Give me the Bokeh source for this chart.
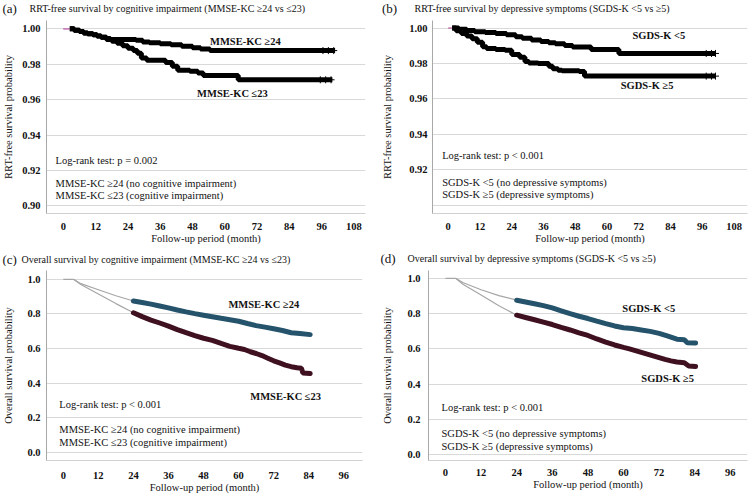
from bokeh.plotting import figure
from bokeh.models import Label, FixedTicker, NumeralTickFormatter, Range1d
from bokeh.layouts import column, row
from bokeh.embed import file_html
from bokeh.resources import INLINE

FONT = "Liberation Serif"
INK = "#111111"
GRID = "#d9d9d9"
TEAL = "#24536b"
MAROON = "#3f1020"
THIN = "#a6a6a6"

# ---------------- axis ticks ----------------
rrt_x_ticks = [0, 12, 24, 36, 48, 60, 72, 84, 96, 108]
os_x_ticks = [0, 12, 24, 36, 48, 60, 72, 84, 96]
rrt_y_ticks = [0.90, 0.92, 0.94, 0.96, 0.98, 1.00]
rrt_y_ticks_b = [0.92, 0.94, 0.96, 0.98, 1.00]
os_y_ticks = [0.0, 0.2, 0.4, 0.6, 0.8, 1.0]

# ---------------- (a) RRT-free survival by MMSE-KC ----------------
a_hi_t = [0, 2.4, 4, 6, 7.5, 9, 11, 12.5, 14, 16, 17.5, 27, 29.5, 32, 36, 40, 44, 48, 51, 54.5, 101]
a_hi_s = [1.0, 1.0, 0.9992, 0.9985, 0.9977, 0.9972, 0.9966, 0.996, 0.9952, 0.9946, 0.994,
          0.9936, 0.9926, 0.9921, 0.9915, 0.991, 0.9902, 0.9893, 0.9886, 0.9877, 0.9877]
a_lo_t = [0, 2.4, 4, 6, 7.5, 9, 11, 12.5, 14, 16, 18, 20, 22, 24, 26, 27.5, 29, 31, 38,
          40.5, 42.5, 47, 50, 52, 65, 100]
a_lo_s = [1.0, 1.0, 0.9992, 0.9985, 0.9977, 0.9972, 0.9966, 0.996, 0.9952, 0.994, 0.993,
          0.9918, 0.9905, 0.989, 0.9878, 0.9862, 0.9835, 0.9822, 0.981, 0.9788, 0.9766,
          0.976, 0.975, 0.9736, 0.9712, 0.9712]
a_hi_cens = [96.5, 98.5, 100.5]
a_lo_cens = [95.5, 97.5, 99.5]

# ---------------- (b) RRT-free survival by SGDS-K ----------------
b_lo5_t = [0, 1.5, 4, 7, 10, 14, 18, 22, 25.5, 28, 31.5, 35, 38, 40.5, 44, 47, 54, 64.5, 101]
b_lo5_s = [1.0, 1.0, 0.9993, 0.9986, 0.998, 0.9975, 0.9969, 0.9962, 0.9951, 0.9943, 0.9933,
           0.9925, 0.9918, 0.9912, 0.9902, 0.9893, 0.9879, 0.9857, 0.9857]
b_hi5_t = [0, 1.5, 3, 5, 7, 9, 11, 13, 14.5, 18, 21.5, 24, 27, 29, 30.5, 34, 38, 39.5, 41.5,
           43, 49.5, 51.5, 101]
b_hi5_s = [1.0, 1.0, 0.9985, 0.997, 0.9955, 0.994, 0.992, 0.9895, 0.9885, 0.9879, 0.9875,
           0.9851, 0.9835, 0.9812, 0.9803, 0.98, 0.9785, 0.977, 0.9762, 0.9759, 0.9755,
           0.9729, 0.9729]
b_lo5_cens = [97.5, 99.5, 101]
b_hi5_cens = [97.5, 99.5, 101]

# ---------------- (c) overall survival by MMSE-KC ----------------
c_start_t = [0, 3.5]
c_start_s = [1.0, 1.0]
c_hi_early_t = [3.5, 6, 12, 18, 24]
c_hi_early_s = [1.0, 0.975, 0.94, 0.905, 0.875]
c_lo_early_t = [3.5, 6, 12, 18, 24]
c_lo_early_s = [1.0, 0.97, 0.915, 0.86, 0.807]
c_hi_t = [24, 27, 30, 33, 36, 39, 42, 45, 48, 51, 54, 57, 60, 63, 66, 69, 72, 75, 78, 81, 84.5]
c_hi_s = [0.875, 0.866, 0.857, 0.846, 0.835, 0.823, 0.812, 0.802, 0.793, 0.784, 0.775,
          0.767, 0.758, 0.745, 0.733, 0.724, 0.715, 0.705, 0.692, 0.687, 0.681]
c_lo_t = [24, 27, 30, 33, 36, 39, 42, 45, 48, 51, 54, 57, 60, 62, 64, 66, 68, 70, 72, 74,
          76, 78, 80, 81.5, 82, 84.5]
c_lo_s = [0.807, 0.785, 0.765, 0.748, 0.73, 0.71, 0.692, 0.675, 0.66, 0.648, 0.63, 0.613,
          0.602, 0.595, 0.582, 0.572, 0.56, 0.545, 0.53, 0.518, 0.505, 0.496, 0.49, 0.487,
          0.46, 0.456]

# ---------------- (d) overall survival by SGDS-K ----------------
d_start_t = [0, 3.4]
d_start_s = [1.0, 1.0]
d_lo5_early_t = [3.4, 6, 12, 18, 24]
d_lo5_early_s = [1.0, 0.975, 0.935, 0.902, 0.876]
d_hi5_early_t = [3.4, 6, 12, 18, 24]
d_hi5_early_s = [1.0, 0.965, 0.905, 0.845, 0.791]
d_lo5_t = [24, 27, 30, 33, 36, 39, 42, 45, 48, 51, 54, 57, 60, 63, 66, 69, 72, 75, 78,
           80.5, 81.5, 84.3]
d_lo5_s = [0.876, 0.866, 0.856, 0.845, 0.832, 0.816, 0.8, 0.785, 0.772, 0.757, 0.743,
           0.73, 0.72, 0.715, 0.707, 0.699, 0.688, 0.672, 0.655, 0.652, 0.635, 0.633]
d_hi5_t = [24, 27, 30, 33, 36, 39, 42, 45, 48, 51, 54, 57, 60, 62, 64, 66, 68, 70, 72, 74,
           76, 78, 80.5, 82, 84.3]
d_hi5_s = [0.791, 0.778, 0.765, 0.752, 0.738, 0.722, 0.707, 0.691, 0.676, 0.656, 0.638,
           0.622, 0.608, 0.6, 0.59, 0.58, 0.57, 0.56, 0.55, 0.54, 0.532, 0.525, 0.521,
           0.503, 0.5]


def make_panel(width, height, border, x_range, y_range, x_ticks, y_ticks, y_fmt, y_label,
               y_tick_standoff, y_label_standoff, x_tick_standoff, grid_ticks=None):
    left, right, top, bottom = border
    p = figure(width=width, height=height, output_backend="svg", toolbar_location=None,
               x_range=Range1d(*x_range), y_range=Range1d(*y_range),
               min_border_left=left, min_border_right=right,
               min_border_top=top, min_border_bottom=bottom)
    p.outline_line_color = None
    p.xgrid.visible = False
    p.ygrid.ticker = FixedTicker(ticks=grid_ticks or y_ticks)
    p.ygrid.grid_line_color = GRID
    p.ygrid.grid_line_width = 1
    xa, ya = p.xaxis[0], p.yaxis[0]
    xa.ticker = FixedTicker(ticks=x_ticks)
    ya.ticker = FixedTicker(ticks=y_ticks)
    ya.formatter = NumeralTickFormatter(format=y_fmt)
    for ax in (xa, ya):
        ax.major_tick_line_color = None
        ax.minor_tick_line_color = None
        ax.major_tick_out = 0
        ax.major_tick_in = 0
        ax.minor_tick_out = 0
        ax.minor_tick_in = 0
        ax.major_label_text_font = FONT
        ax.major_label_text_font_style = "bold"
        ax.major_label_text_font_size = "10.5px"
        ax.major_label_text_color = INK
        ax.axis_label_text_font = FONT
        ax.axis_label_text_font_style = "normal"
        ax.axis_label_text_font_size = "10.5px"
        ax.axis_label_text_color = INK
    xa.axis_label = "Follow-up period (month)"
    xa.major_label_standoff = x_tick_standoff
    xa.axis_label_standoff = 0
    xa.axis_line_color = "#d0d0d0"
    ya.axis_label = y_label
    ya.major_label_standoff = y_tick_standoff
    ya.axis_label_standoff = y_label_standoff
    ya.axis_line_color = "#a8a8a8"
    return p


def heading(width, height, tag, text, tag_x, text_x, y):
    """A thin strip above a panel holding its letter and caption."""
    h = figure(width=width, height=height, output_backend="svg", toolbar_location=None,
               x_range=Range1d(0, width), y_range=Range1d(0, height),
               x_axis_location=None, y_axis_location=None, min_border=0)
    h.outline_line_color = None
    h.grid.visible = False
    h.add_layout(Label(x=tag_x, y=y, text=tag, text_font=FONT, text_font_size="13px",
                       text_color=INK, text_baseline="middle", text_align="left"))
    h.add_layout(Label(x=text_x, y=y, text=text, text_font=FONT, text_font_size="10px",
                       text_color=INK, text_baseline="middle", text_align="left"))
    return h


def note(p, x, y, text, bold=False):
    p.add_layout(Label(x=x, y=y, text=text, text_font=FONT, text_font_size="10.5px",
                       text_font_style="bold" if bold else "normal", text_color=INK,
                       text_baseline="middle", text_align="left"))


def km_step(p, t, s, cens, start_color):
    # thin lead-in at S = 1, then the heavy censored stretch
    p.line(t[:2], s[:2], line_color=start_color, line_width=1.2)
    p.step(t[1:], s[1:], mode="after", line_color="black", line_width=5)
    p.scatter(cens, [s[-1]] * len(cens), marker="cross", size=7, line_color="black",
              line_width=1)


# ---------------- panel (a) ----------------
ha = heading(375, 16, "(a)",
             "RRT-free survival by cognitive impairment (MMSE-KC \u226524 vs \u226423)",
             2, 29, 8)
pa = make_panel(375, 234, (43, 10, 4, 37), (-6.26, 112.3), (0.89565, 1.0047),
                rrt_x_ticks, rrt_y_ticks, "0.00", "RRT-free survival probability",
                6, 5, 9)
km_step(pa, a_hi_t, a_hi_s, a_hi_cens, "#c77ab8")
km_step(pa, a_lo_t, a_lo_s, a_lo_cens, "#c77ab8")
note(pa, 54.5, 0.9928, "MMSE-KC \u226524", bold=True)
note(pa, 49.7, 0.9636, "MMSE-KC \u226423", bold=True)
note(pa, -2.9, 0.9256, "Log-rank test: p = 0.002")
note(pa, -2.9, 0.9128, "MMSE-KC \u226524 (no cognitive impairment)")
note(pa, -2.9, 0.9058, "MMSE-KC \u226423 (cognitive impairment)")

# ---------------- panel (b) ----------------
hb = heading(375, 16, "(b)",
             "RRT-free survival by depressive symptoms (SGDS-K <5 vs \u22655)",
             6.5, 39, 8)
pb = make_panel(375, 234, (57, 3, 4, 36), (-5.94, 113.1), (0.89534, 1.0043),
                rrt_x_ticks, rrt_y_ticks_b, "0.00", "RRT-free survival probability",
                5, 13, 9, grid_ticks=rrt_y_ticks)
km_step(pb, b_lo5_t, b_lo5_s, b_lo5_cens, "#7f9fd0")
km_step(pb, b_hi5_t, b_hi5_s, b_hi5_cens, "#e07aa8")
note(pb, 69.6, 0.9959, "SGDS-K <5", bold=True)
note(pb, 65.2, 0.9676, "SGDS-K \u22655", bold=True)
note(pb, -2.3, 0.9281, "Log-rank test: p < 0.001")
note(pb, -2.3, 0.9129, "SGDS-K <5 (no depressive symptoms)")
note(pb, -2.3, 0.9060, "SGDS-K \u22655 (depressive symptoms)")

# ---------------- panel (c) ----------------
hc = heading(375, 16, "(c)",
             "Overall survival by cognitive impairment (MMSE-KC \u226524 vs \u226423)",
             2, 21, 7.5)
pc = make_panel(375, 233, (42, 13, 4, 36), (-5.75, 102.4), (-0.0455, 1.051),
                os_x_ticks, os_y_ticks, "0.0", "Overall survival probability",
                6, 10, 11)
pc.line(c_start_t, c_start_s, line_color=THIN, line_width=1.2)
pc.line(c_hi_early_t, c_hi_early_s, line_color=THIN, line_width=1.2)
pc.line(c_lo_early_t, c_lo_early_s, line_color=THIN, line_width=1.2)
pc.line(c_hi_t, c_hi_s, line_color=TEAL, line_width=5, line_cap="round")
pc.line(c_lo_t, c_lo_s, line_color=MAROON, line_width=5, line_cap="round")
note(pc, 56.5, 0.856, "MMSE-KC \u226524", bold=True)
note(pc, 64.0, 0.3256, "MMSE-KC \u226423", bold=True)
note(pc, -1.35, 0.28, "Log-rank test: p < 0.001")
note(pc, -1.35, 0.1324, "MMSE-KC \u226524 (no cognitive impairment)")
note(pc, -1.35, 0.0608, "MMSE-KC \u226423 (cognitive impairment)")

# ---------------- panel (d) ----------------
hd = heading(375, 16, "(d)",
             "Overall survival by depressive symptoms (SGDS-K <5 vs \u22655)",
             5, 32, 8)
pd = make_panel(375, 233, (53, 3, 0, 39), (-5.73, 101.8), (-0.0333, 1.0444),
                os_x_ticks, os_y_ticks, "0.0", "Overall survival probability",
                8, 11, 8)
pd.line(d_start_t, d_start_s, line_color=THIN, line_width=1.2)
pd.line(d_lo5_early_t, d_lo5_early_s, line_color=THIN, line_width=1.2)
pd.line(d_hi5_early_t, d_hi5_early_s, line_color=THIN, line_width=1.2)
pd.line(d_lo5_t, d_lo5_s, line_color=TEAL, line_width=5, line_cap="round")
pd.line(d_hi5_t, d_hi5_s, line_color=MAROON, line_width=5, line_cap="round")
note(pd, 59.6, 0.8278, "SGDS-K <5", bold=True)
note(pd, 66.0, 0.4333, "SGDS-K \u22655", bold=True)
note(pd, -1.35, 0.268, "Log-rank test: p < 0.001")
note(pd, -1.35, 0.1183, "SGDS-K <5 (no depressive symptoms)")
note(pd, -1.35, 0.0444, "SGDS-K \u22655 (depressive symptoms)")

layout = column(row(ha, hb), row(pa, pb), row(hc, hd), row(pc, pd))
open("out.html", "w").write(file_html(layout, INLINE))
